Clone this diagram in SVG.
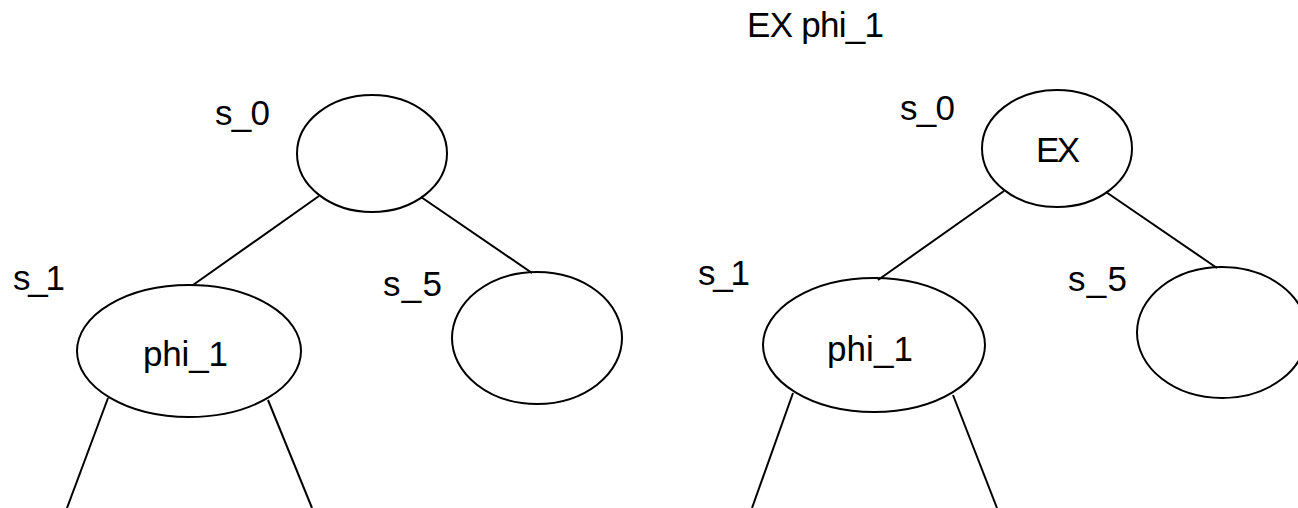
<svg xmlns="http://www.w3.org/2000/svg" width="1298" height="508" viewBox="0 0 1298 508">
  <style>
    .node { fill: none; stroke: #000; stroke-width: 2; }
    .edge { stroke: #000; stroke-width: 2; fill: none; }
    text { font-family: "Liberation Sans", Arial, sans-serif; font-size: 35px; fill: #000; }
  </style>
  <rect width="1298" height="508" fill="#fff"/>

  <!-- formula heading -->
  <text id="title" x="747" y="37" textLength="137" lengthAdjust="spacing">EX phi_1</text>

  <!-- connectors for both trees -->
  <g id="connectors">
    <!-- left tree -->
    <line class="edge" x1="319" y1="196" x2="193" y2="285"/>
    <line class="edge" x1="421" y1="197" x2="532" y2="273"/>
    <line class="edge" x1="108" y1="398" x2="67" y2="508"/>
    <line class="edge" x1="268" y1="400" x2="312" y2="508"/>
    <!-- right tree -->
    <line class="edge" x1="1004" y1="191" x2="878" y2="280"/>
    <line class="edge" x1="1106" y1="192" x2="1217" y2="268"/>
    <line class="edge" x1="793" y1="393" x2="752" y2="508"/>
    <line class="edge" x1="953" y1="395" x2="997" y2="508"/>
  </g>

  <!-- left tree -->
  <g id="left-s0">
    <ellipse class="node" cx="372" cy="153.5" rx="75" ry="58.5"/>
    <text x="215" y="125" textLength="55" lengthAdjust="spacing">s_0</text>
  </g>
  <g id="left-s1">
    <ellipse class="node" cx="189" cy="351" rx="112" ry="66"/>
    <text x="13" y="290" textLength="52" lengthAdjust="spacing">s_1</text>
    <text x="143" y="366" textLength="85" lengthAdjust="spacing">phi_1</text>
  </g>
  <g id="left-s5">
    <ellipse class="node" cx="537" cy="338" rx="85" ry="66"/>
    <text x="383" y="296" textLength="59" lengthAdjust="spacing">s_5</text>
  </g>

  <!-- right tree -->
  <g id="right-s0">
    <ellipse class="node" cx="1057" cy="148.5" rx="75" ry="58.5"/>
    <text x="900" y="120" textLength="55" lengthAdjust="spacing">s_0</text>
    <text x="1036" y="162" textLength="44" lengthAdjust="spacing">EX</text>
  </g>
  <g id="right-s1">
    <ellipse class="node" cx="874" cy="345" rx="111" ry="67"/>
    <text x="698" y="285" textLength="52" lengthAdjust="spacing">s_1</text>
    <text x="827" y="361" textLength="86" lengthAdjust="spacing">phi_1</text>
  </g>
  <g id="right-s5">
    <ellipse class="node" cx="1222" cy="332.5" rx="85" ry="65.5"/>
    <text x="1068" y="291" textLength="59" lengthAdjust="spacing">s_5</text>
  </g>
</svg>
